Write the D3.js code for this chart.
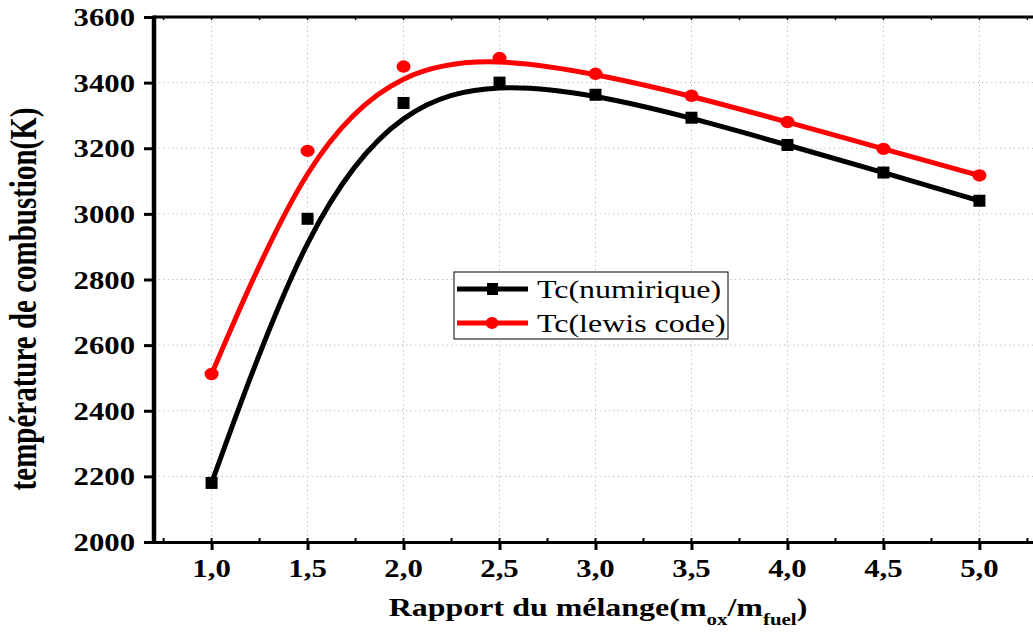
<!DOCTYPE html>
<html>
<head>
<meta charset="utf-8">
<script src="https://cdn.jsdelivr.net/npm/d3@7/dist/d3.min.js"></script>
<style>
  html, body { margin: 0; padding: 0; background: #fff; }
  svg { display: block; }
  text { font-family: "Liberation Serif", "Times New Roman", serif; fill: #000; }
</style>
</head>
<body>
<svg id="chart" width="1033" height="632"></svg>
<script>
// Mixture ratio (m_ox / m_fuel)
const ratios = [1.0, 1.5, 2.0, 2.5, 3.0, 3.5, 4.0, 4.5, 5.0];
// Combustion temperature (K), numerical solver
const tcNumerique = [2180, 2985, 3338, 3400, 3363, 3293, 3210, 3126, 3040];
// Combustion temperature (K), Lewis code
const tcLewis = [2512, 3192, 3449, 3475, 3427, 3360, 3280, 3198, 3117];

const xTicks = [1.0, 1.5, 2.0, 2.5, 3.0, 3.5, 4.0, 4.5, 5.0];
const xTickLabels = ["1,0", "1,5", "2,0", "2,5", "3,0", "3,5", "4,0", "4,5", "5,0"];
const yTicks = [2000, 2200, 2400, 2600, 2800, 3000, 3200, 3400, 3600];
const legendLabels = ["Tc(numirique)", "Tc(lewis code)"];

const svg = d3.select("#chart");
const L = 154, R = 1037, T = 17, B = 542;
const SX = 1.23; // horizontal glyph stretch

const x = d3.scaleLinear().domain([0.7, 5.3]).range([L, R]);
const y = d3.scaleLinear().domain([2000, 3600]).range([B, T]);

// dotted grid
const grid = svg.append("g").attr("stroke", "#c4c4c4").attr("stroke-width", 1)
  .attr("stroke-dasharray", "1.5,3");
grid.selectAll("line.v").data(xTicks).join("line")
  .attr("x1", d => x(d)).attr("x2", d => x(d)).attr("y1", T).attr("y2", B);
grid.selectAll("line.h").data(yTicks.slice(1, -1)).join("line")
  .attr("x1", L).attr("x2", R).attr("y1", d => y(d)).attr("y2", d => y(d));

// curves
const line = d3.line().x((d, i) => x(ratios[i])).y(d => y(d)).curve(d3.curveBasis);
svg.append("path").datum(tcNumerique).attr("d", line)
  .attr("fill", "none").attr("stroke", "#000").attr("stroke-width", 5);
svg.append("path").datum(tcLewis).attr("d", line)
  .attr("fill", "none").attr("stroke", "#ff0000").attr("stroke-width", 5);

// markers
svg.selectAll("rect.pt").data(tcNumerique).join("rect")
  .attr("x", (d, i) => x(ratios[i]) - 6).attr("y", d => y(d) - 6)
  .attr("width", 12).attr("height", 12).attr("fill", "#000");
svg.selectAll("ellipse.pt").data(tcLewis).join("ellipse")
  .attr("cx", (d, i) => x(ratios[i])).attr("cy", d => y(d))
  .attr("rx", 7).attr("ry", 6.2).attr("fill", "#ff0000");

// bottom axis
const xAxis = d3.axisBottom(x).tickValues(xTicks).tickSize(8).tickPadding(0).tickFormat("");
const gx = svg.append("g").attr("transform", `translate(0,${B})`).call(xAxis);
gx.select(".domain").remove();
gx.selectAll(".tick line").attr("stroke", "#000").attr("stroke-width", 3);
svg.append("line").attr("x1", L).attr("x2", 1033).attr("y1", B + 0.5).attr("y2", B + 0.5)
  .attr("stroke", "#000").attr("stroke-width", 3);
const minorX = d3.range(0.75, 5.3, 0.25);
svg.selectAll("line.mb").data(minorX).join("line")
  .attr("x1", d => x(d)).attr("x2", d => x(d)).attr("y1", B - 4).attr("y2", B)
  .attr("stroke", "#000").attr("stroke-width", 2);
// top frame
svg.append("line").attr("x1", L).attr("x2", 1033).attr("y1", T).attr("y2", T)
  .attr("stroke", "#000").attr("stroke-width", 3);
svg.selectAll("line.mt").data(minorX).join("line")
  .attr("x1", d => x(d)).attr("x2", d => x(d)).attr("y1", T).attr("y2", T + 3)
  .attr("stroke", "#000").attr("stroke-width", 1.5);

// left axis
const yAxis = d3.axisLeft(y).tickValues(yTicks).tickSize(10).tickFormat("");
const gy = svg.append("g").attr("transform", `translate(${L},0)`).call(yAxis);
gy.select(".domain").remove();
gy.selectAll(".tick line").attr("stroke", "#000").attr("stroke-width", 3);
svg.append("line").attr("x1", L).attr("x2", L).attr("y1", T - 1.5).attr("y2", B + 2)
  .attr("stroke", "#000").attr("stroke-width", 4.5);

// tick labels
svg.selectAll("text.yt").data(yTicks).join("text")
  .attr("transform", d => `translate(135,${y(d) + 9}) scale(${SX},1)`)
  .attr("text-anchor", "end").attr("font-weight", "bold").attr("font-size", 25)
  .text(d => d);
svg.selectAll("text.xt").data(xTicks).join("text")
  .attr("transform", d => `translate(${x(d)},577) scale(${SX},1)`)
  .attr("text-anchor", "middle").attr("font-weight", "bold").attr("font-size", 25)
  .text((d, i) => xTickLabels[i]);

// axis titles
const xt = svg.append("text")
  .attr("transform", `translate(598,616) scale(${SX},1)`)
  .attr("text-anchor", "middle").attr("font-weight", "bold").attr("font-size", 26);
xt.append("tspan").text("Rapport du mélange(m");
xt.append("tspan").attr("font-size", 17).attr("dy", 9).text("ox");
xt.append("tspan").attr("dy", -9).text("/m");
xt.append("tspan").attr("font-size", 17).attr("dy", 9).text("fuel");
xt.append("tspan").attr("dy", -9).text(")");

svg.append("text")
  .attr("transform", `translate(36,299) rotate(-90) scale(1,1.3)`)
  .attr("text-anchor", "middle").attr("font-weight", "bold").attr("font-size", 29)
  .text("température de combustion(K)");

// legend
const lg = svg.append("g");
lg.append("rect").attr("x", 454).attr("y", 272).attr("width", 274).attr("height", 67)
  .attr("fill", "#fff").attr("stroke", "#000").attr("stroke-width", 1);
const rows = [
  { label: legendLabels[0], color: "#000", yy: 289, shape: "square" },
  { label: legendLabels[1], color: "#ff0000", yy: 323, shape: "circle" }
];
rows.forEach(r => {
  lg.append("line").attr("x1", 457).attr("x2", 528).attr("y1", r.yy).attr("y2", r.yy)
    .attr("stroke", r.color).attr("stroke-width", 5);
  if (r.shape === "square") {
    lg.append("rect").attr("x", 487).attr("y", r.yy - 6).attr("width", 11).attr("height", 12)
      .attr("fill", r.color);
  } else {
    lg.append("ellipse").attr("cx", 492).attr("cy", r.yy).attr("rx", 6.5).attr("ry", 6)
      .attr("fill", r.color);
  }
  lg.append("text").attr("transform", `translate(537,${r.yy + 9}) scale(${SX},1)`)
    .attr("font-size", 26).text(r.label);
});
</script>
</body>
</html>
